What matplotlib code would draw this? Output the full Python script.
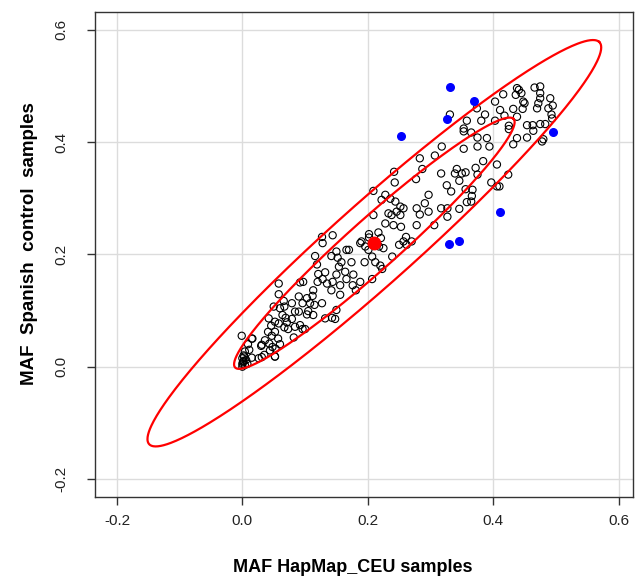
import numpy as np
import matplotlib
matplotlib.use("Agg")
import matplotlib.pyplot as plt

# ---------------- data ----------------
# open circles: (MAF HapMap_CEU, MAF Spanish controls)
pts_x = [
    0.127, 0.128, 0.144, 0.116, 0.119, 0.142, 0.121, 0.132, 0.128, 0.120,
    0.135, 0.144, 0.142, 0.113, 0.112, 0.103, 0.096, 0.108, 0.115, 0.127,
    0.092, 0.097, 0.058, 0.090, 0.079, 0.084, 0.090, 0.105, 0.113, 0.100,
    0.092, 0.066, 0.067, 0.060, 0.058, 0.050, 0.064, 0.069, 0.071, 0.067,
    0.058, 0.052, 0.046, 0.042, 0.041, 0.047, 0.052, 0.057, 0.043, 0.048,
    0.044, 0.053, 0.060, 0.073, 0.084, 0.096, 0.082, 0.030, 0.035, 0.052,
    0.016, -0.001, 0.009, 0.011, 0.015, 0.004, 0.026, 0.132, 0.143, 0.103,
    0.079, 0.036, 0.015, 0.031, 0.031, 0.052,
    0.000, 0.002, 0.000, 0.004, 0.006, 0.003, 0.001, 0.008, 0.000, 0.002,
    0.243, 0.277, 0.209, 0.228, 0.236, 0.244, 0.252, 0.257, 0.246, 0.252,
    0.238, 0.233, 0.222, 0.209, 0.228, 0.241, 0.253, 0.278, 0.283, 0.291,
    0.297, 0.297, 0.317, 0.278, 0.306, 0.261, 0.257, 0.250, 0.262, 0.270,
    0.202, 0.202, 0.217, 0.221, 0.225, 0.218, 0.190, 0.188, 0.196, 0.201,
    0.207, 0.212, 0.220, 0.223, 0.239, 0.195, 0.174, 0.166, 0.170, 0.158,
    0.152, 0.150, 0.154, 0.164, 0.177, 0.166, 0.176, 0.188, 0.207, 0.181,
    0.156, 0.156, 0.150, 0.150, 0.148,
    0.283, 0.307, 0.318, 0.287, 0.242, 0.317,
    0.438, 0.441, 0.436, 0.445, 0.466, 0.475, 0.475, 0.475, 0.491, 0.495,
    0.488, 0.493, 0.494, 0.470, 0.472, 0.448, 0.450, 0.416, 0.403, 0.411,
    0.432, 0.447, 0.387, 0.381, 0.403, 0.418, 0.438, 0.425, 0.425, 0.454,
    0.463, 0.475, 0.483, 0.464, 0.454, 0.480, 0.478, 0.438, 0.432, 0.374,
    0.358, 0.353, 0.353, 0.365, 0.375, 0.375, 0.390, 0.394, 0.353, 0.331,
    0.384, 0.406, 0.372, 0.342, 0.356, 0.350, 0.339, 0.346, 0.375, 0.424,
    0.397, 0.406, 0.410, 0.367, 0.356, 0.333, 0.326, 0.366, 0.358, 0.365,
    0.346, 0.327, 0.327,
]
pts_y = [
    0.231, 0.220, 0.234, 0.197, 0.182, 0.197, 0.165, 0.168, 0.156, 0.151,
    0.148, 0.151, 0.136, 0.136, 0.126, 0.122, 0.113, 0.113, 0.110, 0.113,
    0.150, 0.151, 0.148, 0.125, 0.113, 0.098, 0.098, 0.099, 0.092, 0.067,
    0.074, 0.117, 0.107, 0.104, 0.129, 0.107, 0.092, 0.087, 0.079, 0.070,
    0.077, 0.080, 0.073, 0.086, 0.062, 0.055, 0.062, 0.050, 0.041, 0.035,
    0.029, 0.032, 0.040, 0.067, 0.071, 0.067, 0.052, 0.037, 0.021, 0.018,
    0.050, 0.055, 0.040, 0.030, 0.016, 0.027, 0.015, 0.086, 0.087, 0.093,
    0.085, 0.047, 0.050, 0.039, 0.017, 0.018,
    0.005, 0.010, 0.015, 0.003, 0.012, 0.018, 0.008, 0.005, 0.000, 0.020,
    0.328, 0.334, 0.313, 0.306, 0.299, 0.294, 0.285, 0.282, 0.276, 0.270,
    0.270, 0.273, 0.297, 0.270, 0.255, 0.252, 0.249, 0.282, 0.271, 0.291,
    0.276, 0.306, 0.282, 0.252, 0.252, 0.231, 0.223, 0.217, 0.217, 0.223,
    0.236, 0.230, 0.239, 0.229, 0.211, 0.214, 0.223, 0.220, 0.214, 0.208,
    0.196, 0.186, 0.180, 0.174, 0.196, 0.186, 0.186, 0.208, 0.208, 0.186,
    0.194, 0.205, 0.178, 0.169, 0.164, 0.156, 0.145, 0.151, 0.156, 0.136,
    0.145, 0.128, 0.164, 0.101, 0.085,
    0.371, 0.376, 0.392, 0.352, 0.347, 0.344,
    0.496, 0.493, 0.484, 0.487, 0.497, 0.499, 0.487, 0.478, 0.478, 0.465,
    0.460, 0.449, 0.442, 0.460, 0.469, 0.472, 0.469, 0.485, 0.472, 0.457,
    0.459, 0.459, 0.449, 0.438, 0.438, 0.447, 0.445, 0.429, 0.423, 0.430,
    0.430, 0.432, 0.432, 0.420, 0.408, 0.405, 0.401, 0.407, 0.396, 0.460,
    0.438, 0.424, 0.419, 0.417, 0.408, 0.392, 0.407, 0.392, 0.388, 0.449,
    0.366, 0.360, 0.354, 0.352, 0.346, 0.344, 0.344, 0.331, 0.342, 0.342,
    0.328, 0.321, 0.321, 0.315, 0.316, 0.312, 0.323, 0.304, 0.293, 0.294,
    0.281, 0.282, 0.267,
]

# outlier SNPs (blue, filled)
out_x = [0.331, 0.370, 0.326, 0.496, 0.411, 0.330, 0.346, 0.253]
out_y = [0.498, 0.473, 0.441, 0.418, 0.276, 0.218, 0.224, 0.411]

# mean point (red)
mean_x = [0.2105]
mean_y = [0.2198]

# data ellipses: centre, semi-major, semi-minor, orientation (degrees)
ell_cx = [0.2105, 0.2105]
ell_cy = [0.2198, 0.2198]
ell_a = [0.507, 0.3135]
ell_b = [0.069, 0.0427]
ell_angle = [45.0, 45.0]

x_ticks = [-0.2, 0.0, 0.2, 0.4, 0.6]
y_ticks = [-0.2, 0.0, 0.2, 0.4, 0.6]
x_label = "MAF HapMap_CEU samples"
y_label = "MAF  Spanish  control  samples"

# ---------------- plot ----------------
plt.rcParams['font.family'] = ['Liberation Sans', 'DejaVu Sans']

W, H = 635, 581
fig = plt.figure(figsize=(W / 100, H / 100), dpi=100)
left, right, top, bottom = 95, 633, 12.3, 497.3
ax = fig.add_axes([left / W, 1 - bottom / H, (right - left) / W, (bottom - top) / H])

ax.set_xlim(-0.235, 0.623)
ax.set_ylim(-0.2326, 0.631)

ax.set_xticks(x_ticks)
ax.set_yticks(y_ticks)
ax.set_xticklabels([f"{v:.1f}" for v in x_ticks])
ax.set_yticklabels([f"{v:.1f}" for v in y_ticks], rotation=90, va='center')
ax.grid(True, color='#dcdcdc', linewidth=1.0)
ax.set_axisbelow(True)

for s in ax.spines.values():
    s.set_color('#333333')
    s.set_linewidth(1.0)
ax.tick_params(direction='out', length=6, width=1.0, color='#333333',
               labelsize=11, labelcolor='#222222', pad=6)
ax.tick_params(axis='y', pad=13)

ax.scatter(pts_x, pts_y, s=27, facecolors='none', edgecolors='black',
           linewidths=0.8, zorder=3)

t = np.linspace(0, 2 * np.pi, 500)
for cx, cy, a, b, ang in zip(ell_cx, ell_cy, ell_a, ell_b, ell_angle):
    th = np.deg2rad(ang)
    ex = cx + a * np.cos(t) * np.cos(th) - b * np.sin(t) * np.sin(th)
    ey = cy + a * np.cos(t) * np.sin(th) + b * np.sin(t) * np.cos(th)
    ax.plot(ex, ey, color='#ff0000', linewidth=1.6, zorder=4)

ax.scatter(out_x, out_y, s=30, color='#0000ff', zorder=5)
ax.scatter(mean_x, mean_y, s=80, color='#ff0000', zorder=6)

fig.text(353 / W, 1 - 568 / H, x_label, ha='center', va='center',
         fontsize=13, fontweight='bold')
fig.text(30 / W, 1 - 244 / H, y_label, ha='center', va='center',
         rotation=90, fontsize=13.5, fontweight='bold')

fig.savefig("out.png", dpi=100)
